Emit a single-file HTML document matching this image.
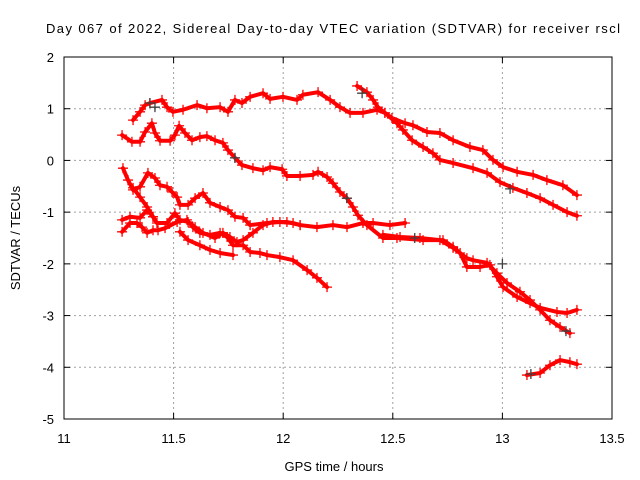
<!DOCTYPE html>
<html><head><meta charset="utf-8"><style>
body{margin:0;background:#fff}
svg{display:block;font-family:"Liberation Sans",sans-serif}
</style></head><body>
<svg id="chart" width="640" height="480">
<text x="333" y="33" font-size="13" text-anchor="middle" textLength="574">Day 067 of 2022, Sidereal Day-to-day VTEC variation (SDTVAR) for receiver rscl</text>
<text x="334" y="471" font-size="13" text-anchor="middle">GPS time / hours</text>
<text transform="translate(20,238) rotate(-90)" font-size="13" text-anchor="middle">SDTVAR / TECUs</text>
<g id="grid"></g><g id="ticks"></g><g id="series"></g>
<rect x="64" y="57" width="548" height="362" fill="none" stroke="#000"/>
</svg>
<script>
const xTicks=[11,11.5,12,12.5,13,13.5];
const xTickLabels=["11","11.5","12","12.5","13","13.5"];
const yTicks=[2,1,0,-1,-2,-3,-4,-5];
const yTickLabels=["2","1","0","-1","-2","-3","-4","-5"];
const trackA=[[11.315,0.78],[11.347,0.94],[11.370,1.07],[11.392,1.11],[11.447,1.17],[11.470,1.03],[11.497,0.94],[11.543,0.98],[11.607,1.07],[11.652,1.01],[11.712,1.03],[11.748,0.94],[11.780,1.17],[11.812,1.11],[11.849,1.23],[11.908,1.30],[11.940,1.19],[11.999,1.23],[12.063,1.17],[12.090,1.27],[12.159,1.32],[12.214,1.17],[12.259,1.03],[12.305,0.92],[12.364,0.92],[12.428,0.98],[12.464,0.92],[12.496,0.82],[12.556,0.72],[12.592,0.68],[12.656,0.55],[12.715,0.53],[12.775,0.39],[12.852,0.26],[12.911,0.20],[12.957,0.01],[13.003,-0.13],[13.067,-0.22],[13.140,-0.28],[13.203,-0.38],[13.276,-0.48],[13.340,-0.67]];
const trackL=[[12.337,1.44],[12.382,1.32],[12.410,1.17],[12.432,1.03],[12.464,0.92],[12.519,0.72],[12.546,0.59],[12.588,0.39],[12.638,0.26],[12.683,0.14],[12.715,0.01],[12.775,-0.05],[12.866,-0.15],[12.930,-0.24],[12.989,-0.42],[13.048,-0.53],[13.112,-0.63],[13.172,-0.73],[13.231,-0.86],[13.295,-1.00],[13.340,-1.07]];
const trackB=[[11.265,0.49],[11.310,0.36],[11.347,0.36],[11.370,0.55],[11.401,0.72],[11.415,0.53],[11.438,0.38],[11.484,0.38],[11.506,0.49],[11.525,0.67],[11.552,0.53],[11.584,0.39],[11.620,0.45],[11.652,0.47],[11.689,0.39],[11.725,0.34],[11.748,0.20],[11.780,0.05],[11.812,-0.09],[11.862,-0.15],[11.908,-0.19],[11.940,-0.13],[11.995,-0.17],[12.017,-0.30],[12.077,-0.30],[12.136,-0.28],[12.159,-0.22],[12.200,-0.32],[12.227,-0.44],[12.259,-0.61],[12.291,-0.73],[12.318,-0.90],[12.341,-1.06],[12.382,-1.25],[12.455,-1.50],[12.519,-1.50],[12.638,-1.54],[12.729,-1.54],[12.775,-1.67],[12.807,-1.79],[12.838,-2.06],[12.898,-2.06],[12.943,-2.02],[12.975,-2.25],[13.003,-2.45],[13.067,-2.64],[13.126,-2.76],[13.172,-2.85],[13.249,-2.93],[13.295,-2.95],[13.340,-2.89]];
const trackC=[[11.269,-0.15],[11.292,-0.38],[11.315,-0.57],[11.347,-0.51],[11.383,-0.24],[11.415,-0.34],[11.438,-0.48],[11.470,-0.51],[11.493,-0.61],[11.516,-0.71],[11.529,-0.86],[11.566,-0.86],[11.598,-0.73],[11.634,-0.63],[11.666,-0.82],[11.712,-0.90],[11.748,-0.96],[11.780,-1.09],[11.817,-1.11],[11.849,-1.25],[11.926,-1.21],[11.985,-1.19],[12.045,-1.21],[12.077,-1.25],[12.154,-1.29],[12.227,-1.25],[12.291,-1.29],[12.364,-1.21],[12.410,-1.21],[12.487,-1.25],[12.556,-1.21]];
const trackD=[[11.265,-1.15],[11.301,-1.09],[11.347,-1.11],[11.379,-0.96],[11.406,-1.09],[11.424,-1.21],[11.470,-1.21],[11.506,-1.02],[11.529,-1.15],[11.566,-1.19],[11.598,-1.29],[11.634,-1.40],[11.689,-1.50],[11.725,-1.40],[11.757,-1.48],[11.789,-1.58],[11.817,-1.54],[11.862,-1.40],[11.908,-1.25],[11.953,-1.19],[12.017,-1.19],[12.077,-1.25]];
const trackE=[[11.265,-1.38],[11.301,-1.21],[11.333,-1.21],[11.356,-1.29],[11.379,-1.40],[11.406,-1.35],[11.429,-1.35],[11.461,-1.31],[11.516,-1.19],[11.561,-1.15],[11.588,-1.29],[11.620,-1.40],[11.666,-1.44],[11.712,-1.40],[11.744,-1.48],[11.771,-1.64],[11.817,-1.64],[11.849,-1.77],[11.894,-1.79],[11.926,-1.83],[11.985,-1.87],[12.045,-1.93],[12.109,-2.12],[12.154,-2.27],[12.200,-2.45]];
const trackF=[[11.529,-1.38],[11.566,-1.54],[11.620,-1.64],[11.666,-1.73],[11.712,-1.79],[11.771,-1.83]];
const trackG=[[11.315,-0.53],[11.347,-0.71],[11.379,-0.90],[11.406,-1.09]];
const trackI=[[12.455,-1.44],[12.533,-1.48],[12.624,-1.50],[12.715,-1.54],[12.775,-1.69],[12.838,-1.89],[12.866,-1.93],[12.930,-1.98],[12.975,-2.18],[13.021,-2.37],[13.080,-2.54],[13.126,-2.70],[13.172,-2.89],[13.217,-3.09],[13.263,-3.22],[13.308,-3.34]];
const trackH=[[13.112,-4.15],[13.172,-4.11],[13.217,-3.96],[13.263,-3.86],[13.308,-3.90],[13.340,-3.94]];
const blackPoints=[[11.392,1.11],[11.415,1.03],[11.780,0.05],[12.36,1.30],[13.035,-0.55],[13.29,-3.30],[13.13,-4.13],[12.29,-0.73],[12.6,-1.5],[13.0,-2.0]];
const tracks=[trackA,trackL,trackB,trackC,trackD,trackE,trackF,trackG,trackI,trackH];

const NS="http://www.w3.org/2000/svg";
const X0=64,X1=612,Y0=57,Y1=419;
function xs(h){return X0+(h-11)/(13.5-11)*(X1-X0);}
function ys(v){return Y0+(2-v)/7*(Y1-Y0);}
function mk(tag,attrs,parent){const e=document.createElementNS(NS,tag);for(const k in attrs)e.setAttribute(k,attrs[k]);parent.appendChild(e);return e;}
const grid=document.getElementById('grid'),ticks=document.getElementById('ticks'),series=document.getElementById('series');
xTicks.forEach((t,i)=>{const x=xs(t);
 if(i>0&&i<xTicks.length-1){const g=mk('line',{x1:x,x2:x,y1:Y0,y2:Y1,stroke:'#a0a0a0','stroke-dasharray':'2,3'},grid);
 
 }
 mk('line',{x1:x,x2:x,y1:Y1,y2:Y1-6,stroke:'#000'},ticks);mk('line',{x1:x,x2:x,y1:Y0,y2:Y0+6,stroke:'#000'},ticks);
 const l=mk('text',{x:x,y:Y1+24,'font-size':13,'text-anchor':'middle'},ticks);l.textContent=xTickLabels[i];
 
 });
yTicks.forEach((t,i)=>{const y=ys(t);
 if(i>0&&i<yTicks.length-1){const g=mk('line',{x1:X0,x2:X1,y1:y,y2:y,stroke:'#a0a0a0','stroke-dasharray':'2,3'},grid);
 
 }
 mk('line',{x1:X0,x2:X0+6,y1:y,y2:y,stroke:'#000'},ticks);mk('line',{x1:X1,x2:X1-6,y1:y,y2:y,stroke:'#000'},ticks);
 const l=mk('text',{x:X0-10,y:y+5,'font-size':13,'text-anchor':'end'},ticks);l.textContent=yTickLabels[i];
 
 });
function plus(x,y,col,g){mk('path',{d:`M${x-5},${y}h10M${x},${y-5}v10`,stroke:col,'stroke-width':1.3,fill:'none'},g);}
tracks.forEach((tr,k)=>{const g=mk('g',{},series);
 
 
 mk('polyline',{points:tr.map(p=>xs(p[0])+','+ys(p[1])).join(' '),fill:'none',stroke:'#ff0000','stroke-width':4,'stroke-linejoin':'round','stroke-linecap':'round'},g);
 tr.forEach(p=>plus(xs(p[0]),ys(p[1]),'#ff0000',g));});
const bg=mk('g',{},series);


blackPoints.forEach(p=>plus(xs(p[0]),ys(p[1]),'#404040',bg));
</script>
</body></html>
